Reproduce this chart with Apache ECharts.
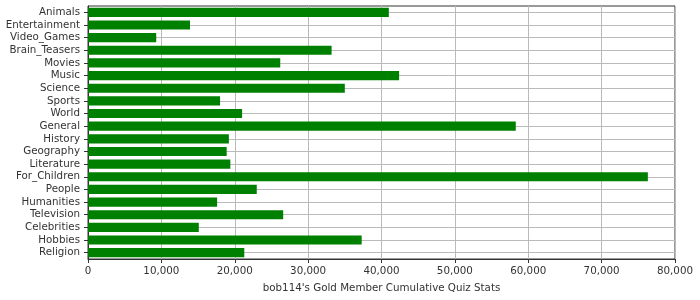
<!DOCTYPE html>
<html><head><meta charset="utf-8">
<script src="https://cdn.jsdelivr.net/npm/echarts@6/dist/echarts.min.js"></script>
<style>html,body{margin:0;padding:0;background:#fff}#c{width:700px;height:300px}</style>
</head><body><div id="c"></div>
<script>
const categories = ["Animals","Entertainment","Video_Games","Brain_Teasers","Movies","Music","Science","Sports","World","General","History","Geography","Literature","For_Children","People","Humanities","Television","Celebrities","Hobbies","Religion"];
const values = [41000,13900,9300,33200,26200,42400,35000,18000,21000,58300,19200,18900,19400,76300,23000,17600,26600,15100,37300,21300];
const xTicks = {min:0, max:80000, interval:10000};
const axisTitle = "bob114's Gold Member Cumulative Quiz Stats";

const font = "DejaVu Sans";
const chart = echarts.init(document.getElementById('c'), null, {renderer:'canvas'});
chart.setOption({
  animation:false,
  backgroundColor:'#fff',
  grid:{left:88, right:25, top:6, bottom:41, show:true, borderColor:'#333', borderWidth:1},
  xAxis:{
    type:'value', min:xTicks.min, max:xTicks.max, interval:xTicks.interval,
    name:axisTitle, nameLocation:'middle', nameGap:24,
    nameTextStyle:{fontFamily:font, fontSize:10.3, color:'#333'},
    axisLine:{show:true, lineStyle:{color:'#333'}},
    axisTick:{show:true, length:4, lineStyle:{color:'#333'}},
    axisLabel:{fontFamily:font, fontSize:10.3, color:'#333', margin:7,
      formatter:v=>v.toLocaleString('en-US')},
    splitLine:{show:true, lineStyle:{color:'#bbb', width:1}}
  },
  yAxis:{
    type:'category', data:categories, inverse:true,
    axisLine:{show:true, lineStyle:{color:'#333'}},
    axisTick:{show:true, length:4, interval:0, alignWithLabel:true, lineStyle:{color:'#333'}},
    axisLabel:{fontFamily:font, fontSize:10.3, color:'#333', margin:8, interval:0},
    splitLine:{show:true, interval:0, alignWithLabel:true, lineStyle:{color:'#bbb', width:1}}
  },
  series:[{type:'bar', data:values, barCategoryGap:'28%', itemStyle:{color:'#008000'}, silent:true}]
});
</script></body></html>
